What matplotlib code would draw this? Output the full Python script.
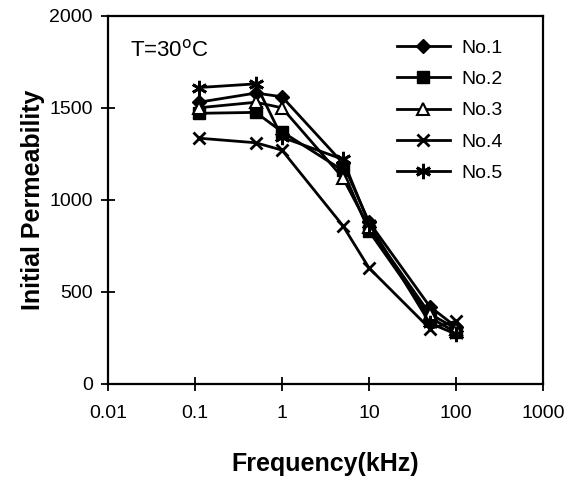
import numpy as np
import matplotlib
matplotlib.use('Agg')
import matplotlib.pyplot as plt

plt.rcParams['font.family'] = ['Liberation Sans', 'DejaVu Sans']

# frequency (kHz)
freq = [0.11, 0.5, 1, 5, 10, 50, 100]

no1 = [1530, 1580, 1560, 1200, 880, 420, 310]
no2 = [1470, 1475, 1370, 1160, 830, 360, 280]
no3 = [1500, 1530, 1500, 1120, 850, 380, 300]
no4 = [1335, 1310, 1270, 860, 630, 300, 340]
no5 = [1610, 1630, 1340, 1220, 870, 330, 270]

labels = ['No.1', 'No.2', 'No.3', 'No.4', 'No.5']
xticks = [0.01, 0.1, 1, 10, 100, 1000]
xticklabels = ['0.01', '0.1', '1', '10', '100', '1000']
yticks = [0, 500, 1000, 1500, 2000]

fig = plt.figure(figsize=(5.68, 4.78), dpi=100)
ax = fig.add_axes([0.190, 0.197, 0.766, 0.770])

styles = [
    dict(marker='D', ms=7, mfc='black', mec='black'),
    dict(marker='s', ms=8, mfc='black', mec='black'),
    dict(marker='^', ms=8, mfc='white', mec='black', mew=1.5),
    dict(marker='x', ms=9, mec='black', mew=2),
    dict(marker=(6, 2, 0), ms=11, mec='black', mew=2),
]

for vals, lab, st in zip([no1, no2, no3, no4, no5], labels, styles):
    ax.plot(freq, vals, color='black', lw=2, label=lab, **st)

ax.set_xscale('log')
ax.set_xlim(0.01, 1000)
ax.set_ylim(0, 2000)
ax.set_xticks(xticks)
ax.set_xticklabels(xticklabels)
ax.minorticks_off()
ax.set_yticks(yticks)
ax.tick_params(direction='inout', length=10, width=1.3, labelsize=14)
ax.tick_params(axis='x', pad=10)
ax.tick_params(axis='y', pad=6)

for s in ax.spines.values():
    s.set_linewidth(1.6)

ax.set_xlabel('Frequency(kHz)', fontsize=18, fontweight='bold', labelpad=22)
ax.set_ylabel('Initial Permeability', fontsize=18, fontweight='bold', labelpad=3)

ax.text(0.05, 0.905, 'T=30$^{\\rm o}$C', transform=ax.transAxes, fontsize=16,
        va='center', ha='left')

ax.legend(loc='upper left', bbox_to_anchor=(0.647, 0.957), frameon=False,
          fontsize=14, handlelength=2.7, handletextpad=0.6,
          labelspacing=0.7, borderaxespad=0)

fig.savefig('out.png', dpi=100)
